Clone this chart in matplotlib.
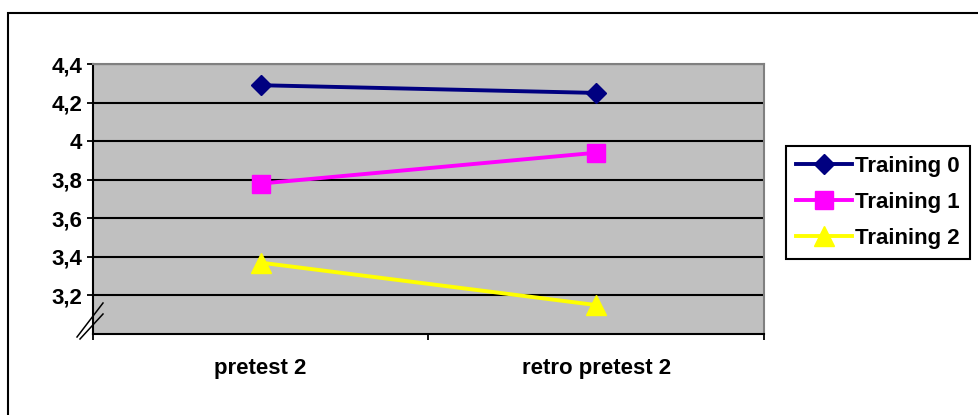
import numpy as np
import matplotlib
matplotlib.use("Agg")
import matplotlib.pyplot as plt
from matplotlib.patches import Rectangle
from matplotlib.lines import Line2D

categories = ["pretest 2", "retro pretest 2"]
training_0 = [4.29, 4.25]
training_1 = [3.78, 3.94]
training_2 = [3.37, 3.15]
series_names = ["Training 0", "Training 1", "Training 2"]
y_ticks = [3.2, 3.4, 3.6, 3.8, 4.0, 4.2, 4.4]
y_labels = ["3,2", "3,4", "3,6", "3,8", "4", "4,2", "4,4"]

plt.rcParams["font.family"] = ["Liberation Sans", "DejaVu Sans"]
plt.rcParams["font.weight"] = "bold"
fs = 16

W, H = 979, 415
fig = plt.figure(figsize=(W / 100, H / 100), dpi=100)
# axes placed in pixel terms of the reference
ax = fig.add_axes([92.7 / W, (H - 334) / H, (764 - 92.7) / W, 270 / H])
ax.set_facecolor("#c0c0c0")

x = np.arange(len(categories))
ax.plot(x, training_0, color="#000080", lw=2.8, marker="D", ms=10, label=series_names[0], zorder=5)
ax.plot(x, training_1, color="#ff00ff", lw=2.8, marker="s", ms=13.5, label=series_names[1], zorder=5)
ax.plot(x, training_2, color="#ffff00", lw=2.8, marker="^", ms=14, label=series_names[2], zorder=5)

ax.set_xlim(-0.5, 1.5)
ax.set_ylim(3.0, 4.4)
ax.set_yticks(y_ticks)
ax.set_yticklabels(y_labels, fontsize=fs, fontweight="bold")
ax.set_xticks(x)
ax.set_xticklabels(categories, fontsize=fs, fontweight="bold")
ax.set_xticks([-0.5, 0.5, 1.5], minor=True)
ax.tick_params(axis="x", which="major", length=0, pad=17)
ax.tick_params(axis="x", which="minor", length=4.5, width=1.3, direction="out")
ax.tick_params(axis="y", length=4.5, width=1.3, pad=3)
ax.yaxis.grid(True, color="black", lw=1.5)
ax.set_axisbelow(True)

for s in ["left", "bottom"]:
    ax.spines[s].set_color("black")
    ax.spines[s].set_linewidth(1.5)
for s in ["top", "right"]:
    ax.spines[s].set_color("#808080")
    ax.spines[s].set_linewidth(1.5)

# axis break marks
def px(xp, yp):
    return ((xp - 92.7) / 671.3, (334 - yp) / 270)

for (a, b) in [((77, 337), (103, 303)), ((80, 339), (103, 314))]:
    p0, p1 = px(*a), px(*b)
    ax.add_line(Line2D([p0[0], p1[0]], [p0[1], p1[1]], transform=ax.transAxes,
                       color="black", lw=1.1, clip_on=False, zorder=6))

leg = ax.legend(loc="upper left", bbox_to_anchor=(786 / W, 1 - 146 / H),
                bbox_transform=fig.transFigure, borderaxespad=0, fancybox=False,
                framealpha=1, edgecolor="black", prop={"size": fs, "weight": "bold"},
                handlelength=2.5, handletextpad=0.15, labelspacing=0.68,
                borderpad=0.45)
leg.get_frame().set_linewidth(1.5)

# outer chart border
fig.add_artist(Rectangle((8.5 / W, -0.1), 1.2, 1 - 13 / H + 0.1, transform=fig.transFigure,
                         fill=False, edgecolor="black", lw=1.5, clip_on=False))

fig.savefig("out.png", dpi=100)
